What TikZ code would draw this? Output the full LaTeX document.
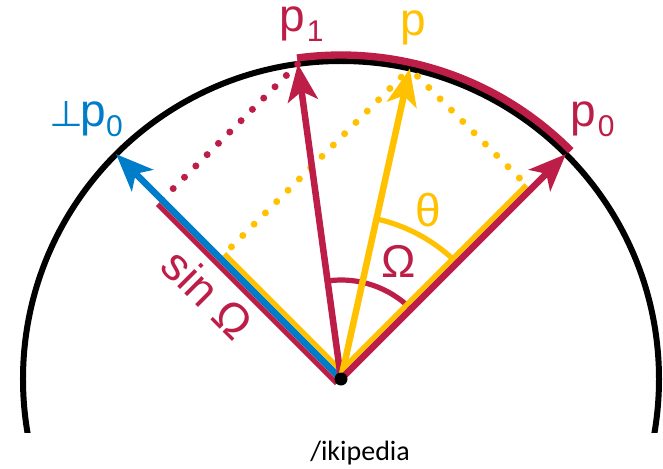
\documentclass[tikz,border=0pt]{standalone}
\usepackage{fontspec}
\setmainfont{Liberation Sans}
\newfontfamily\dejavu{DejaVu Sans}
\newfontfamily\carlito{Carlito}
\usetikzlibrary{arrows.meta}
\definecolor{mag}{RGB}{188,30,71}
\definecolor{yel}{RGB}{255,193,0}
\definecolor{blu}{RGB}{0,125,201}
\begin{document}
\begin{tikzpicture}[x=0.75pt,y=0.75pt,
  vec/.style={line width=4.9pt, -{Stealth[length=27.75pt,width=22.5pt,inset=7pt]}},
  parl/.style={line width=3.9pt},
  dotl/.style={line width=5.25pt, line cap=round, dash pattern=on 0pt off 12pt},
  anglearc/.style={line width=3.9pt},
  lab/.style={inner sep=0pt, font=\fontsize{34.5}{34.5}\selectfont},
]
\useasboundingbox (-341,-89) rectangle (322,379);
% points
\coordinate (O) at (0,0);
\coordinate (P0) at (45:318);
\coordinate (Q0) at (135:318);
\coordinate (P1) at (97.8:318);
\coordinate (P) at (77.5:318);
\coordinate (A) at (45:268.2);
\coordinate (B) at (135:170.9);
\coordinate (C) at (135:253.3);
% circle
\begin{scope}
\clip (-341,-53) rectangle (322,379);
\draw[line width=4.5pt] (O) circle[radius=318];
\end{scope}
% arc between p0 and p1
\draw[mag, line width=5.5pt] (44.8:324) arc[start angle=44.8, end angle=97.8, radius=324];
% dotted projections
\draw[dotl, mag] (C) -- (P1);
\draw[dotl, yel] (B) -- (P);
\draw[dotl, yel] (A) -- (P);
% angle arcs
\draw[anglearc, mag] (45:99) arc[start angle=45, end angle=97.8, radius=99];
\draw[anglearc, yel] (45:164) arc[start angle=45, end angle=77.5, radius=164];
% parallel segments
\draw[parl, yel] ([shift={(135:6)}]O) -- ([shift={(135:6)}]A);
\draw[parl, yel] ([shift={(45:6)}]O) -- ([shift={(45:6)}]B);
\draw[parl, mag] ([shift={(225:6)}]O) -- ([shift={(225:6)}]C);
% vectors
\draw[vec, blu] (O) -- (Q0);
\draw[vec, mag] (O) -- (P1);
\draw[vec, yel] (O) -- (P);
\draw[vec, mag] (O) -- (P0);
\fill (O) circle[radius=6.5];
% labels
\node[lab, text=mag, anchor=base west] (lp1) at (-62,347) {p\kern1.5pt\raisebox{-7.5pt}{\fontsize{22.5}{22.5}\selectfont 1}};
\node[lab, text=yel, anchor=base west] (lp) at (59,343.7) {p};
\node[lab, text=mag, anchor=base west] (lp0) at (229,252) {p\kern1.5pt\raisebox{-7.5pt}{\fontsize{22.5}{22.5}\selectfont 0}};
\node[lab, text=blu, anchor=base west] (lq0) at (-292,252) {\resizebox{25.5pt}{18.75pt}{\dejavu ⊥}\kern-2pt p\raisebox{-7.5pt}{\fontsize{22.5}{22.5}\selectfont 0}};
\node[lab, text=yel, anchor=base] (lth) at (87.5,152) {θ};
\node[lab, text=mag, anchor=base] (lom) at (58,102) {Ω};
\node[lab, text=mag, rotate=-45] (lsin) at (-133,85) {sin Ω};
\node[inner sep=0pt, anchor=base west, font=\carlito\fontsize{21}{21}\selectfont] (wiki) at (-31,-81) {/ikipedia};
\end{tikzpicture}
\end{document}
